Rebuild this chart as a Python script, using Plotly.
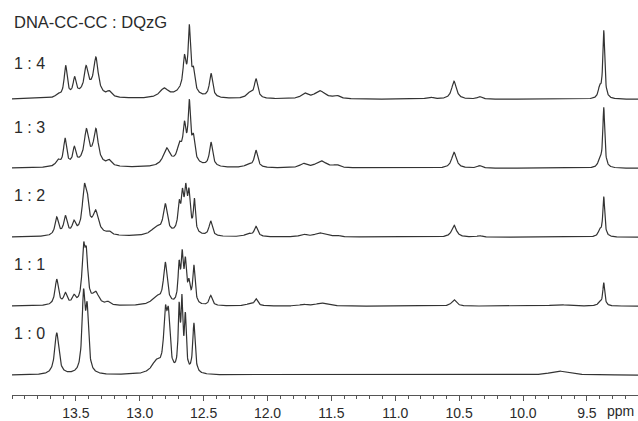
import numpy as np
import plotly.graph_objects as go

# Titration series, DNA-CC-CC : DQzG molar ratio
ratio_labels = ["1 : 0", "1 : 1", "1 : 2", "1 : 3", "1 : 4"]
title_text = "DNA-CC-CC : DQzG"

tick_values = [13.5, 13.0, 12.5, 12.0, 11.5, 11.0, 10.5, 10.0, 9.5]
tick_labels = ["13.5", "13.0", "12.5", "12.0", "11.5", "11.0", "10.5", "10.0", "9.5"]

# Peak lists per spectrum: (chemical shift / ppm, intensity / a.u., half width / ppm)
peaks_1_0 = [
    (13.650, 42, 0.019),
    (13.440, 76, 0.014),
    (13.412, 58, 0.013),
    (12.870, 12, 0.045),
    (12.800, 53, 0.015),
    (12.776, 50, 0.014),
    (12.692, 60, 0.0085),
    (12.670, 66, 0.0085),
    (12.643, 53, 0.0085),
    (12.576, 50, 0.011),
    (9.720, 4, 0.080),
]

peaks_1_1 = [
    (13.650, 26, 0.016),
    (13.582, 11, 0.016),
    (13.515, 8, 0.016),
    (13.440, 50, 0.014),
    (13.418, 43, 0.014),
    (13.345, 12, 0.030),
    (13.250, 3, 0.020),
    (12.870, 8, 0.045),
    (12.800, 41, 0.017),
    (12.692, 36, 0.010),
    (12.668, 44, 0.010),
    (12.643, 38, 0.010),
    (12.615, 18, 0.011),
    (12.576, 38, 0.011),
    (12.445, 10, 0.014),
    (12.150, 1.5, 0.030),
    (12.090, 7, 0.016),
    (11.720, 1.5, 0.030),
    (11.580, 3, 0.050),
    (10.540, 6.5, 0.022),
    (9.720, 1.5, 0.080),
    (9.400, 4, 0.013),
    (9.368, 23, 0.009),
]

peaks_1_2 = [
    (13.650, 18, 0.016),
    (13.582, 18, 0.016),
    (13.515, 11, 0.016),
    (13.435, 40, 0.017),
    (13.412, 26, 0.015),
    (13.345, 21, 0.026),
    (13.400, 4, 0.120),
    (13.240, 3, 0.020),
    (12.870, 8, 0.050),
    (12.800, 29, 0.019),
    (12.692, 24, 0.011),
    (12.666, 30, 0.011),
    (12.640, 34, 0.011),
    (12.615, 34, 0.011),
    (12.572, 32, 0.009),
    (12.650, 8, 0.060),
    (12.445, 15, 0.015),
    (12.150, 3, 0.030),
    (12.090, 10, 0.016),
    (11.720, 2.5, 0.030),
    (11.590, 4, 0.050),
    (11.460, 1.5, 0.030),
    (10.540, 12, 0.022),
    (10.340, 1.5, 0.020),
    (9.400, 6, 0.013),
    (9.368, 40, 0.009),
]

peaks_1_3 = [
    (13.640, 6, 0.020),
    (13.585, 27, 0.014),
    (13.512, 16, 0.014),
    (13.418, 29, 0.019),
    (13.343, 32, 0.021),
    (13.400, 8, 0.090),
    (13.240, 5, 0.020),
    (12.790, 17, 0.032),
    (12.690, 14, 0.020),
    (12.650, 29, 0.013),
    (12.612, 53, 0.011),
    (12.580, 21, 0.013),
    (12.640, 10, 0.075),
    (12.442, 24, 0.015),
    (12.150, 3, 0.030),
    (12.090, 17, 0.016),
    (11.720, 4, 0.030),
    (11.580, 7, 0.050),
    (11.460, 2.5, 0.030),
    (10.540, 16, 0.022),
    (10.340, 2.5, 0.020),
    (9.400, 8, 0.013),
    (9.368, 60, 0.009),
]

peaks_1_4 = [
    (13.640, 3, 0.020),
    (13.580, 31, 0.014),
    (13.510, 17, 0.014),
    (13.420, 23, 0.017),
    (13.343, 35, 0.021),
    (13.400, 8, 0.090),
    (13.240, 5, 0.020),
    (12.810, 9, 0.040),
    (12.650, 29, 0.013),
    (12.612, 60, 0.011),
    (12.580, 19, 0.013),
    (12.640, 10, 0.075),
    (12.442, 24, 0.015),
    (12.140, 5, 0.030),
    (12.090, 19, 0.016),
    (11.710, 5, 0.030),
    (11.590, 8, 0.050),
    (11.460, 3, 0.030),
    (10.730, 2, 0.030),
    (10.540, 18, 0.022),
    (10.340, 2.5, 0.020),
    (9.400, 10, 0.013),
    (9.368, 68, 0.009),
]

spectra = [peaks_1_0, peaks_1_1, peaks_1_2, peaks_1_3, peaks_1_4]

# Chemical shift grid spanning the displayed window
ppm = np.linspace(14.0, 9.1, 2451)


def lineshape(peaks):
    """Sum of Lorentzian lines for one spectrum."""
    y = np.zeros_like(ppm)
    for centre, height, hw in peaks:
        y += height * hw ** 2 / (hw ** 2 + (ppm - centre) ** 2)
    return y


# Vertical stacking of the traces
base_offset = 20.0
stack_step = 69.3
label_rise = [42, 42, 42, 41, 36]

FONT = "Arial, 'Liberation Sans', sans-serif"
INK = "#2a2a2a"

fig = go.Figure()
annotations = []
for i, (label, peaks) in enumerate(zip(ratio_labels, spectra)):
    offset = base_offset + i * stack_step
    fig.add_trace(go.Scatter(
        x=ppm, y=lineshape(peaks) + offset, mode="lines",
        line=dict(color="#333333", width=1.2), name=label, hoverinfo="skip",
    ))
    annotations.append(dict(
        x=14.0, y=offset + label_rise[i], xref="x", yref="y", text=label,
        showarrow=False, xanchor="left", yanchor="middle",
        font=dict(family=FONT, size=16, color=INK),
    ))

annotations.append(dict(
    x=14.0, y=375, xref="x", yref="y", text=title_text, showarrow=False,
    xanchor="left", yanchor="middle", font=dict(family=FONT, size=16.5, color=INK),
))
annotations.append(dict(
    x=9.235, y=0, xref="x", yref="paper", yshift=-16, text="ppm", showarrow=False,
    xanchor="center", yanchor="middle", font=dict(family=FONT, size=14, color=INK),
))

fig.update_layout(
    width=638, height=421,
    margin=dict(l=12, r=0, t=0, b=24),
    paper_bgcolor="white", plot_bgcolor="white",
    showlegend=False,
    annotations=annotations,
    xaxis=dict(
        range=[14.0, 9.1], showgrid=False, zeroline=False,
        showline=True, linecolor="#555555", linewidth=1,
        tickmode="array", tickvals=tick_values, ticktext=tick_labels,
        ticks="outside", ticklen=5, tickcolor="#555555", tickwidth=1,
        tickfont=dict(family=FONT, size=14, color=INK),
        minor=dict(dtick=0.1, tick0=9.1, ticks="outside", ticklen=3,
                   tickcolor="#555555", tickwidth=1, showgrid=False),
    ),
    yaxis=dict(range=[0, 397], visible=False, fixedrange=True),
)

fig.write_html("out.html")
